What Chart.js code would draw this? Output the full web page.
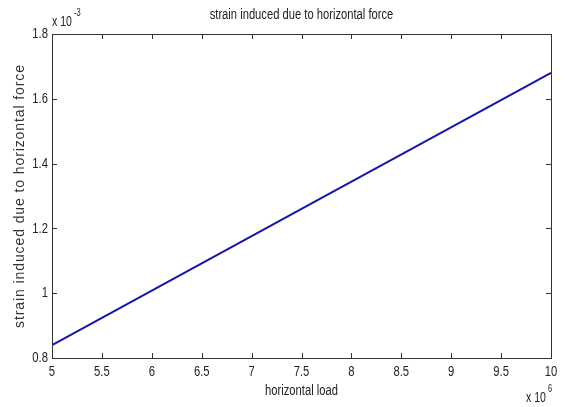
<!DOCTYPE html>
<html>
<head>
<meta charset="utf-8">
<script src="https://cdn.jsdelivr.net/npm/chart.js@4/dist/chart.umd.min.js"></script>
<style>
  html, body { margin: 0; padding: 0; background: #fff; }
  #wrap { width: 565px; height: 407px; }
</style>
</head>
<body>
<div id="wrap"><canvas id="strainChart"></canvas></div>
<script>
// horizontal load (x 10^6) and strain (x 10^-3)
const loads = [5, 7.5, 10];
const strains = [0.84, 1.26, 1.68];
const xTicks = [5, 5.5, 6, 6.5, 7, 7.5, 8, 8.5, 9, 9.5, 10];
const yTicks = [0.8, 1, 1.2, 1.4, 1.6, 1.8];

const FONT = "'Liberation Sans', Arial, sans-serif";

// narrow text like the matlab export: squeeze horizontally
function drawText(ctx, text, x, y, size, align, sx) {
  ctx.save();
  ctx.translate(x, y);
  ctx.scale(sx, 1);
  ctx.font = size + 'px ' + FONT;
  ctx.textAlign = align;
  ctx.textBaseline = 'middle';
  ctx.fillText(text, 0, 0);
  ctx.restore();
}

const fmt = v => String(+v.toFixed(1));

// box, inward ticks on all four sides, tick labels, titles, exponent labels
const matlabAxes = {
  id: 'matlabAxes',
  afterDraw(chart) {
    const ctx = chart.ctx;
    const a = chart.chartArea;
    const xs = chart.scales.x, ys = chart.scales.y;
    ctx.save();
    ctx.strokeStyle = '#333';
    ctx.lineWidth = 1;
    ctx.strokeRect(a.left + 0.5, a.top + 0.5, a.right - a.left, a.bottom - a.top);
    ctx.beginPath();
    xTicks.forEach(v => {
      const px = Math.round(xs.getPixelForValue(v)) + 0.5;
      ctx.moveTo(px, a.bottom); ctx.lineTo(px, a.bottom - 5);
      ctx.moveTo(px, a.top); ctx.lineTo(px, a.top + 5);
    });
    yTicks.forEach(v => {
      const py = Math.round(ys.getPixelForValue(v)) + 0.5;
      ctx.moveTo(a.left, py); ctx.lineTo(a.left + 5, py);
      ctx.moveTo(a.right, py); ctx.lineTo(a.right - 5, py);
    });
    ctx.stroke();

    ctx.fillStyle = '#222';
    xTicks.forEach(v => drawText(ctx, fmt(v), xs.getPixelForValue(v), a.bottom + 14, 15, 'center', 0.75));
    yTicks.forEach(v => drawText(ctx, fmt(v), a.left - 4, ys.getPixelForValue(v), 15, 'right', 0.75));

    const cx = (a.left + a.right) / 2;
    drawText(ctx, 'strain induced due to horizontal force', cx, 15, 14, 'center', 0.8);
    drawText(ctx, 'horizontal load', cx, 391, 14, 'center', 0.8);

    ctx.save();
    ctx.translate(20, (a.top + a.bottom) / 2);
    ctx.rotate(-Math.PI / 2);
    ctx.font = '14px ' + FONT;
    ctx.letterSpacing = '0.9px';
    ctx.fillStyle = '#333';
    ctx.textAlign = 'center';
    ctx.textBaseline = 'middle';
    ctx.fillText('strain induced due to horizontal force', 0, 0);
    ctx.restore();

    drawText(ctx, 'x 10', 52, 22, 14, 'left', 0.75);
    drawText(ctx, '-3', 74, 13, 10, 'left', 0.75);
    drawText(ctx, 'x 10', 526, 398, 14, 'left', 0.75);
    drawText(ctx, '6', 548, 389, 10, 'left', 0.75);
    ctx.restore();
  }
};

new Chart(document.getElementById('strainChart'), {
  type: 'line',
  data: {
    datasets: [{
      data: loads.map((x, i) => ({ x: x, y: strains[i] })),
      borderColor: '#1414b0',
      borderWidth: 2,
      pointRadius: 0,
      fill: false,
      tension: 0
    }]
  },
  options: {
    responsive: true,
    maintainAspectRatio: false,
    animation: false,
    layout: { padding: { left: 0, top: 34, right: 14, bottom: 0 } },
    plugins: {
      legend: { display: false },
      tooltip: { enabled: false }
    },
    scales: {
      x: {
        type: 'linear',
        min: 5,
        max: 10,
        afterBuildTicks: s => { s.ticks = xTicks.map(v => ({ value: v })); },
        afterFit: s => { s.height = 49; },
        grid: { display: false },
        border: { display: false },
        ticks: { display: false }
      },
      y: {
        min: 0.8,
        max: 1.8,
        afterBuildTicks: s => { s.ticks = yTicks.map(v => ({ value: v })); },
        afterFit: s => { s.width = 52; },
        grid: { display: false },
        border: { display: false },
        ticks: { display: false }
      }
    }
  },
  plugins: [matlabAxes]
});
</script>
</body>
</html>
